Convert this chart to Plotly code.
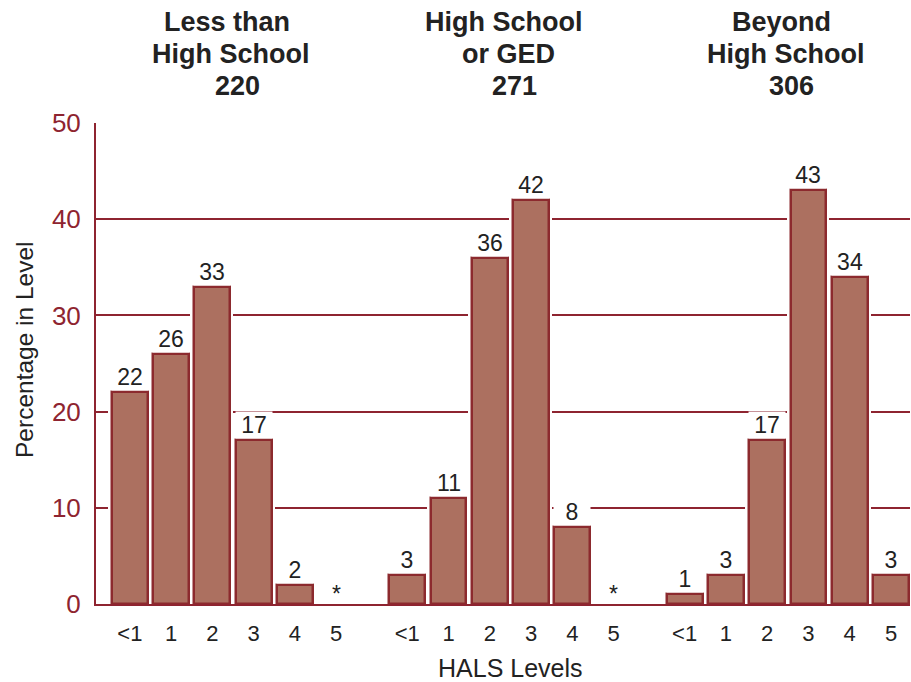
import plotly.graph_objects as go

# HALS level distribution by educational attainment
groups = ["Less than<br>High School", "High School<br>or GED", "Beyond<br>High School"]
group_counts = ["220", "271", "306"]
levels = ["<1", "1", "2", "3", "4", "5"]
less_than_hs = [22, 26, 33, 17, 2, None]
hs_or_ged = [3, 11, 36, 42, 8, None]
beyond_hs = [1, 3, 17, 43, 34, 3]
series = [less_than_hs, hs_or_ged, beyond_hs]

BAR_FILL = "#ac7060"
BAR_EDGE = "#8c2a2e"
AXIS_RED = "#8e2430"
TEXT = "#222222"
FONT = "Liberation Sans, Arial, Helvetica, sans-serif"

GROUP_STEP = 6.72   # spacing between group starts, in slot units
BAR_W = 0.87

xs, ys, ticktext = [], [], []
for g, vals in enumerate(series):
    for i, v in enumerate(vals):
        xs.append(g * GROUP_STEP + i)
        ys.append(v)
        ticktext.append(levels[i])

fig = go.Figure()
# white halo behind each bar so gridlines stop short of the bar edges
fig.add_trace(go.Bar(x=xs, y=ys, width=BAR_W, marker=dict(color="white", line=dict(color="white", width=7)),
                     hoverinfo="skip", showlegend=False))
fig.add_trace(go.Bar(x=xs, y=ys, width=BAR_W, marker=dict(color=BAR_FILL, line=dict(color=BAR_EDGE, width=2.5)),
                     showlegend=False))

annotations = []
for x, v in zip(xs, ys):
    annotations.append(dict(
        x=x, y=v if v is not None else 0, xref="x", yref="y",
        text=str(v) if v is not None else "*",
        showarrow=False, xanchor="center", yanchor="bottom", yshift=1 if v is not None else -4,
        bgcolor="white" if v is not None else "rgba(0,0,0,0)", width=36 if v is not None else None,
        borderpad=0,
        font=dict(family=FONT, size=23, color=TEXT),
    ))

# group headings above the panels
for g, (name, n) in enumerate(zip(groups, group_counts)):
    cx = g * GROUP_STEP + 2.5
    top, bottom = name.split("<br>")
    for text, ypx, shift in [(top, 22, -4), (bottom, 54, 0), (n, 86, 6)]:
        annotations.append(dict(
            x=cx, y=(604 - ypx) / 481, xref="x", yref="paper", text=f"<b>{text}</b>",
            showarrow=False, xanchor="center", yanchor="middle", xshift=shift - 2,
            font=dict(family=FONT, size=27, color=TEXT),
        ))

annotations.append(dict(x=0.5, y=(604 - 668) / 481, xref="paper", yref="paper", text="HALS Levels",
                        showarrow=False, xanchor="center", yanchor="middle", xshift=7,
                        font=dict(family=FONT, size=25, color=TEXT)))
annotations.append(dict(x=(24 - 96) / 814, y=(604 - 350) / 481, xref="paper", yref="paper",
                        text="Percentage in Level", textangle=-90, showarrow=False,
                        xanchor="center", yanchor="middle",
                        font=dict(family=FONT, size=24.5, color=TEXT)))

fig.update_layout(
    width=911, height=682,
    margin=dict(l=96, r=1, t=123, b=78),
    paper_bgcolor="white", plot_bgcolor="white",
    barmode="overlay", bargap=0,
    annotations=annotations,
    xaxis=dict(
        range=[-0.82, 2 * GROUP_STEP + 5 + 0.46],
        tickvals=xs, ticktext=ticktext,
        tickfont=dict(family=FONT, size=22, color=TEXT),
        ticks="", ticklabelstandoff=9,
        showgrid=False, zeroline=False,
        showline=True, linecolor=AXIS_RED, linewidth=2,
        fixedrange=True,
    ),
    yaxis=dict(
        range=[0, 50], tickvals=[0, 10, 20, 30, 40, 50],
        tickfont=dict(family=FONT, size=26, color=AXIS_RED),
        ticks="", ticklabelstandoff=8,
        showgrid=True, gridcolor=AXIS_RED, gridwidth=1.5,
        zeroline=False,
        showline=True, linecolor=AXIS_RED, linewidth=2,
        fixedrange=True,
    ),
)

fig.write_html("out.html")
